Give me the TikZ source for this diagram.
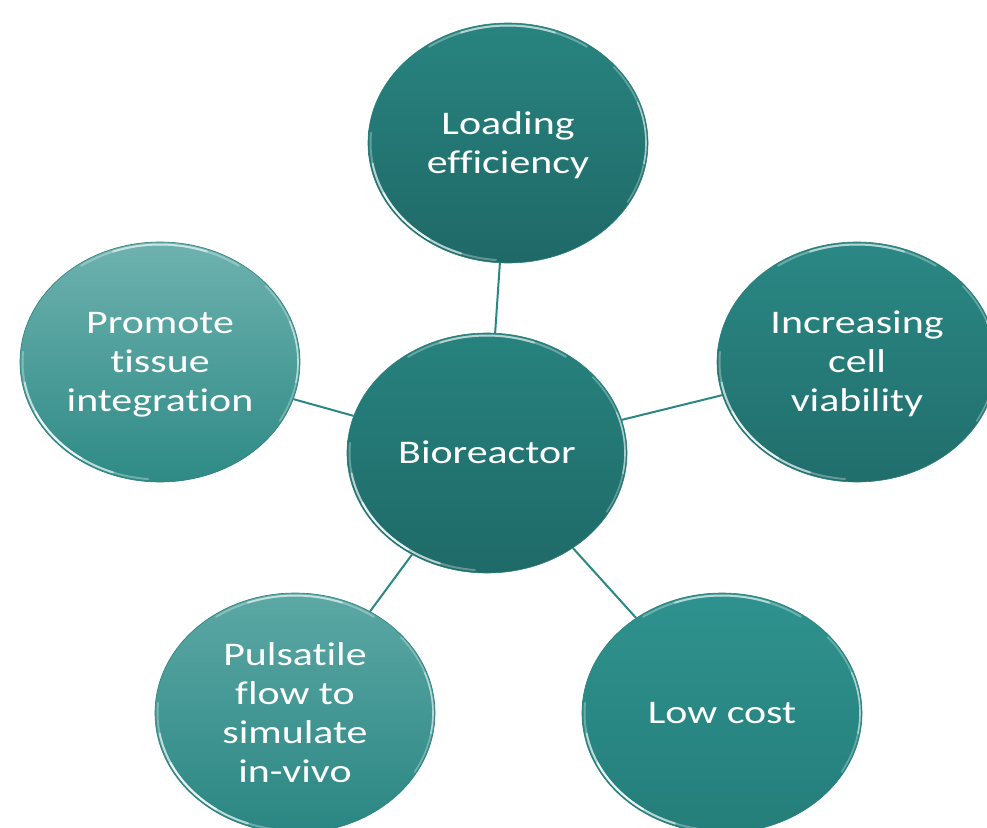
\documentclass[tikz,border=0pt]{standalone}
\usepackage{fontspec}
\setmainfont{Carlito}[Ligatures={NoCommon,NoRequired,NoContextual}]
\usepackage{graphicx}
\usetikzlibrary{shapes.geometric}

\definecolor{linkteal}{HTML}{2A8783}
\definecolor{rimteal}{HTML}{2B7F7B}

% widened, centred multi-line label
\newcommand\bubbletext[1]{\scalebox{1.27}[1]{\begin{tabular}{@{}c@{}}#1\end{tabular}}}

% glossy highlights along the inside of a bubble's edge
\newcommand\glossrim[1]{%
  \foreach \a/\b/\o in {95/185/0.3, 110/170/0.55, 125/155/0.7}{
    \draw[rim, opacity=\o] ([shift={(\a:137.5 and 117.5)}]#1.center)
      arc[start angle=\a, end angle=\b, x radius=137.5, y radius=117.5];}
  \foreach \a/\b/\o in {235/305/0.3, 250/290/0.5}{
    \draw[rim, opacity=\o] ([shift={(\a:137.5 and 117.5)}]#1.center)
      arc[start angle=\a, end angle=\b, x radius=137.5, y radius=117.5];}
  \foreach \a/\b/\o in {-40/30/0.3, -20/10/0.45}{
    \draw[rim, line width=1.6pt, opacity=\o] ([shift={(\a:138 and 118)}]#1.center)
      arc[start angle=\a, end angle=\b, x radius=138, y radius=118];}
}

\begin{document}
\begin{tikzpicture}[x=1pt, y=-1pt,
  bubble/.style={ellipse, minimum width=280pt, minimum height=240pt,
    inner sep=0pt, draw=rimteal, line width=0.6pt},
  caption/.style={inner sep=0pt, text=white, font=\fontsize{33}{39}\selectfont},
  link/.style={draw=linkteal, line width=2pt},
  rim/.style={draw=white, line width=2pt, line cap=round}]

\useasboundingbox (0,0) rectangle (987,827);

% bubbles
\node[bubble, top color={rgb,255:red,39;green,130;blue,126}, bottom color={rgb,255:red,31;green,106;blue,104}]
  (hub) at (487,453) {};
\node[bubble, top color={rgb,255:red,40;green,132;blue,128}, bottom color={rgb,255:red,31;green,105;blue,103}]
  (load) at (508,143) {};
\node[bubble, top color={rgb,255:red,42;green,136;blue,132}, bottom color={rgb,255:red,33;green,110;blue,108}]
  (viab) at (857,362) {};
\node[bubble, top color={rgb,255:red,47;green,146;blue,142}, bottom color={rgb,255:red,36;green,126;blue,122}]
  (cost) at (722,713) {};
\node[bubble, top color={rgb,255:red,92;green,168;blue,165}, bottom color={rgb,255:red,42;green,134;blue,130}]
  (flow) at (295,713) {};
\node[bubble, top color={rgb,255:red,110;green,178;blue,175}, bottom color={rgb,255:red,46;green,138;blue,134}]
  (tissue) at (160,362) {};

% labels
\node[caption] (hubtext)    at ([yshift=-3pt]hub.center)    {\bubbletext{Bioreactor}};
\node[caption] (loadtext)   at ([yshift=-3pt]load.center)   {\bubbletext{Loading\\efficiency}};
\node[caption] (viabtext)   at ([yshift=-3pt]viab.center)   {\bubbletext{Increasing\\cell\\viability}};
\node[caption] (costtext)   at ([yshift=-3pt]cost.center)   {\bubbletext{Low cost}};
\node[caption] (flowtext)   at ([yshift=-3pt]flow.center)   {\bubbletext{Pulsatile\\flow to\\simulate\\in-vivo}};
\node[caption] (tissuetext) at ([yshift=-3pt]tissue.center) {\bubbletext{Promote\\tissue\\integration}};

% spokes
\draw[link] (hub) -- (load);
\draw[link] (hub) -- (viab);
\draw[link] (hub) -- (cost);
\draw[link] (hub) -- (flow);
\draw[link] (hub) -- (tissue);

% gloss
\glossrim{hub}
\glossrim{load}
\glossrim{viab}
\glossrim{cost}
\glossrim{flow}
\glossrim{tissue}
\end{tikzpicture}
\end{document}
